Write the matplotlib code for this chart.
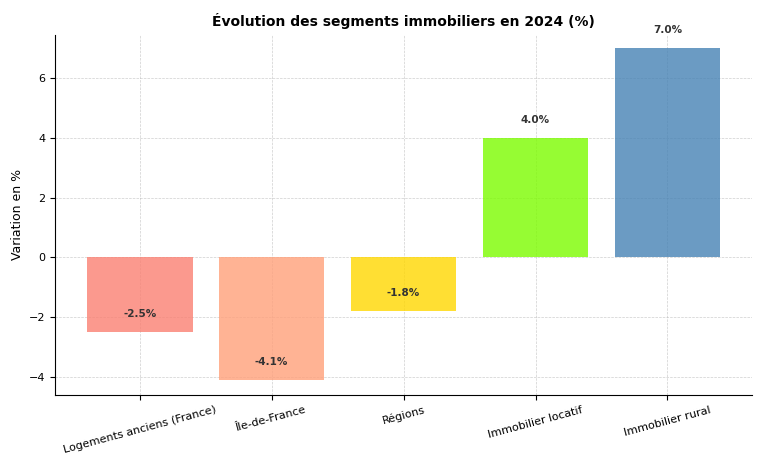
import matplotlib.pyplot as plt

categories = ["Logements anciens (France)", "Île-de-France", "Régions",
              "Immobilier locatif", "Immobilier rural"]
values = [-2.5, -4.1, -1.8, 4.0, 7.0]
colors = ["#FA8072", "#FFA07A", "#FFD700", "#7CFC00", "#4682B4"]

fig = plt.figure(figsize=(7.68, 4.62), dpi=100)
ax = fig.add_axes([0.072, 0.145, 0.907, 0.78])

ax.bar(categories, values, color=colors, alpha=0.8, width=0.8)
for i, v in enumerate(values):
    ax.text(i, v + 0.6, f"{v:.1f}%", ha="center", va="center",
            fontsize=7.5, fontweight="bold", color="#333333")

ax.set_ylim(-4.6, 7.45)
ax.set_ylabel("Variation en %", fontsize=9)
ax.set_title("Évolution des segments immobiliers en 2024 (%)", fontsize=10, fontweight="bold")
ax.grid(True, linestyle="--", linewidth=0.5, alpha=0.6)
ax.set_axisbelow(True)
ax.spines["top"].set_visible(False)
ax.spines["right"].set_visible(False)
ax.tick_params(labelsize=8)
plt.setp(ax.get_xticklabels(), rotation=15)

fig.savefig("out.png", dpi=100)
